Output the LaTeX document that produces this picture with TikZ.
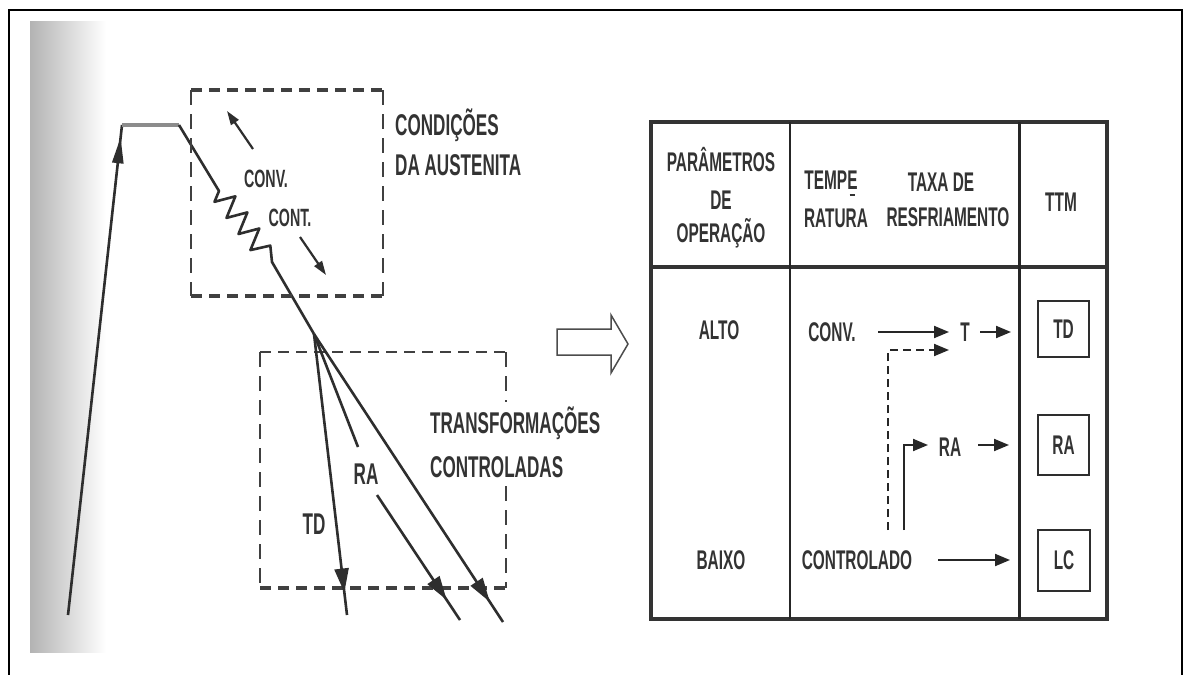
\documentclass[tikz,border=0pt]{standalone}
\usepackage{fontspec}
\setmainfont{Liberation Sans}[FakeStretch=0.57]
\usetikzlibrary{arrows.meta,decorations.markings,calc}
\begin{document}
\begin{tikzpicture}[x=1pt,y=-1pt,
  ink/.style={draw=black!82, line width=2.6pt, line join=round},
  lbl/.style={inner sep=0pt, text=black!80, font=\fontsize{30}{30}\selectfont\bfseries},
  slbl/.style={inner sep=0pt, text=black!80, font=\fontsize{25}{25}\selectfont\bfseries},
  tbl/.style={inner sep=0pt, text=black!80, font=\fontsize{27}{27}\selectfont\bfseries},
  tarr/.style={draw=black!85, line width=2pt, -{Triangle[length=15pt,width=12pt]}},
  sarr/.style={draw=black!82, line width=2.2pt, -{Triangle[length=14pt,width=9pt]}},
  dashh/.style={draw=black!75, line width=3.8pt, dash pattern=on 11pt off 7pt},
  dashhthin/.style={draw=black!75, line width=2.6pt, dash pattern=on 11pt off 7pt},
  dashv/.style={draw=black!75, line width=1.8pt, dash pattern=on 15pt off 9pt},
  midtip/.style={postaction={decorate}, decoration={markings,
     mark=at position #1 with {\arrow{Triangle[length=24pt,width=14pt]}}}},
  ttmbox/.style={draw=black!82, line width=2pt}
]
\useasboundingbox (0,0) rectangle (1187,675);
\fill[white] (0,0) rectangle (1187,675);

% scan shadow on the left
\shade[left color=black!30, right color=white] (30,21) rectangle (106,652);

% outer frame
\draw[line width=2pt, draw=black] (9,675) -- (9,10) -- (1182,10) -- (1182,675);

% ---------------- left: thermal cycle ----------------
\coordinate (h0) at (68,615);
\coordinate (h1) at (122,125);
\coordinate (h2) at (179,125);
\coordinate (h3) at (219,191);
\coordinate (c0) at (314,334);

\draw[ink, postaction={decorate}, decoration={markings,
   mark=at position 0.975 with {\arrow{Triangle[length=26pt,width=11pt]}}}]
   (h0) -- (h1);
\draw[draw=black!45, line width=4pt] (h1) -- (h2);
\draw[ink] (h2) -- (h3) -- (214.5,201.8) -- (235.4,196.3) -- (226.5,217.9)
   -- (247.4,212.4) -- (238.5,234.0) -- (259.3,228.5) -- (250.4,250.1)
   -- (270.3,245.6) -- (272,262) -- (c0);

% upper dashed box: austenite conditions
\draw[dashh] (191,90) -- (383,90);
\draw[dashh] (191,296) -- (383,296);
\draw[dashv] (191,90) -- (191,296);
\draw[dashv] (383,90) -- (383,296);

\coordinate (u1a) at (253,149); \coordinate (u1b) at (227,111);
\coordinate (u2a) at (300,237); \coordinate (u2b) at (326,275);
\draw[sarr] (u1a) -- (u1b);
\draw[sarr] (u2a) -- (u2b);
\node[slbl, anchor=base] (conv) at (266,187) {CONV.};
\node[slbl, anchor=base] (cont) at (290,226) {CONT.};

\node[lbl, anchor=base west] (cond1) at (395,135) {CONDIÇÕES};
\node[lbl, anchor=base west] (cond2) at (395,175) {DA AUSTENITA};

% lower dashed box: controlled transformations
\draw[dashhthin] (260,352) -- (506,352);
\draw[dashh] (260,588) -- (506,588);
\draw[dashv] (260,352) -- (260,588);
\draw[dashv] (506,352) -- (506,402);
\draw[dashv] (506,486) -- (506,588);

\coordinate (tdend) at (347,615);
\coordinate (ra1) at (358,447);
\coordinate (ra2) at (377,495);
\coordinate (raend) at (460,620);
\coordinate (lcend) at (503,622);

\draw[ink, midtip=0.92] (c0) -- (tdend);
\draw[ink] (c0) -- (ra1);
\draw[ink, midtip=0.84] (ra2) -- (raend);
\draw[ink, midtip=0.93] (c0) -- (lcend);

\node[lbl, anchor=base] (tdl) at (314,534) {TD};
\node[lbl, anchor=base] (ral) at (366,484) {RA};

\node[lbl, anchor=base west] (tr1) at (430,433) {TRANSFORMAÇÕES};
\node[lbl, anchor=base west] (tr2) at (430,477) {CONTROLADAS};

% hollow arrow
\draw[line width=1.5pt, draw=black!70, fill=white, line join=miter]
  (557,329) -- (611,329) -- (611,315) -- (628,344) -- (611,373) -- (611,355)
  -- (557,355) -- cycle;

% ---------------- right: table ----------------
\draw[line width=3.5pt, draw=black!80] (651,122) rectangle (1107,619);
\draw[line width=4pt, draw=black!80] (651,267) -- (1107,267);
\draw[line width=1.6pt, draw=black!85] (790,122) -- (790,619);
\draw[line width=3pt, draw=black!85] (1019,122) -- (1019,619);

% header
\node[tbl, anchor=base] (p1) at (721,171.5) {PARÂMETROS};
\node[tbl, anchor=base] (p2) at (721,209.5) {DE};
\node[tbl, anchor=base] (p3) at (721,242.5) {OPERAÇÃO};
\node[tbl, anchor=base] (t1) at (831,189.5) {TEMPE};
\node[tbl, anchor=base] (t2) at (836,227.5) {RATURA};
\draw[line width=2pt, draw=black!80] ([xshift=-8pt,yshift=-5pt]t1.base east) -- ([xshift=-3pt,yshift=-5pt]t1.base east);
\node[tbl, anchor=base] (x1) at (941,191.5) {TAXA DE};
\node[tbl, anchor=base] (x2) at (948,226.5) {RESFRIAMENTO};
\node[tbl, anchor=base] (ttm) at (1061,211.5) {TTM};

% body
\node[tbl, anchor=base] (alto) at (719,339.5) {ALTO};
\node[tbl, anchor=base] (baixo) at (721,569.5) {BAIXO};
\node[tbl, anchor=base] (cv) at (832,341.5) {CONV.};
\node[tbl, anchor=base] (tt) at (965,341.5) {T};
\node[tbl, anchor=base] (rr) at (950,456.5) {RA};
\node[tbl, anchor=base] (ctl) at (857,569.5) {CONTROLADO};

\draw[ttmbox] (1038,301) rectangle (1089,357);
\node[tbl, anchor=base] (btd) at (1063.5,338.5) {TD};
\draw[ttmbox] (1038,415) rectangle (1089,475);
\node[tbl, anchor=base] (bra) at (1063.5,454.5) {RA};
\draw[ttmbox] (1038,530) rectangle (1090,591);
\node[tbl, anchor=base] (blc) at (1064,569.5) {LC};

\coordinate (a1s) at (878,332); \coordinate (a1e) at (949,332);
\coordinate (a2s) at (980,332); \coordinate (a2e) at (1011,332);
\coordinate (d0) at (888,530); \coordinate (d1) at (888,350); \coordinate (d2) at (949,350);
\coordinate (s0) at (904,530); \coordinate (s1) at (904,445); \coordinate (s2) at (928,445);
\coordinate (a3s) at (978,445); \coordinate (a3e) at (1009,445);
\coordinate (a4s) at (938,560); \coordinate (a4e) at (1010,560);

\draw[tarr] (a1s) -- (a1e);
\draw[tarr] (a2s) -- (a2e);
\draw[tarr, dash pattern=on 8pt off 5pt] (d0) -- (d1) -- (d2);
\draw[tarr] (s0) -- (s1) -- (s2);
\draw[tarr] (a3s) -- (a3e);
\draw[tarr] (a4s) -- (a4e);
\end{tikzpicture}
\end{document}
